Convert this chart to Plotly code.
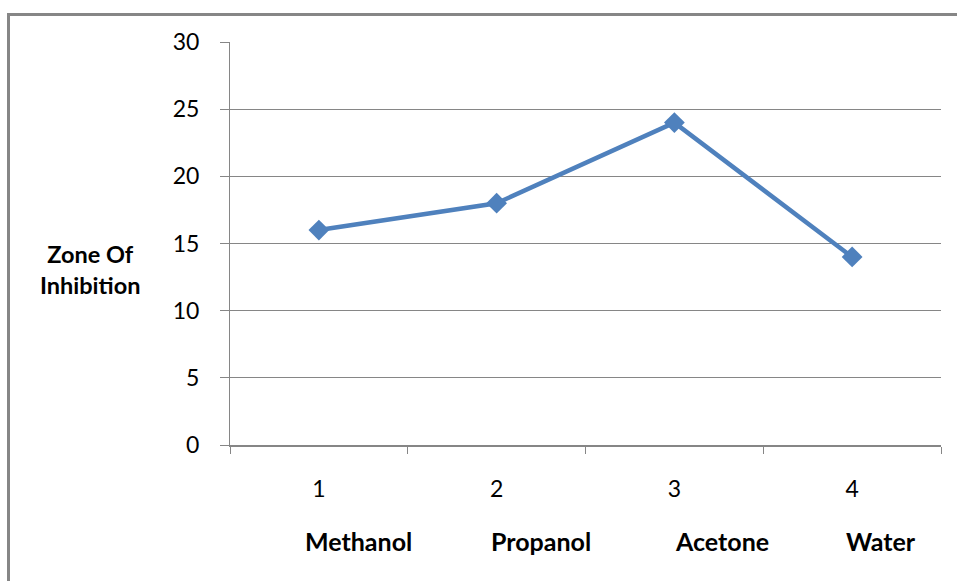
import plotly.graph_objects as go

# Solvent extracts and their zone of inhibition
solvents = ["Methanol", "Propanol", "Acetone", "Water"]
tick_labels = ["1", "2", "3", "4"]
zone_of_inhibition = [16, 18, 24, 14]

# Horizontal centres (paper fraction) of the solvent names under the axis
solvent_label_x = [0.1814, 0.4374, 0.692, 0.9156]

W, H = 957, 581
L, R, T, B = 230, 16, 42, 136
pw, ph = W - L - R, H - T - B

def px_x(p):
    return (p - L) / pw

def px_y(p):
    return (H - B - p) / ph

grey = "#868686"
blue = "#4F81BD"
font_family = "Lato, 'Open Sans', sans-serif"

fig = go.Figure(
    go.Scatter(
        x=tick_labels,
        y=zone_of_inhibition,
        mode="lines+markers",
        line=dict(color=blue, width=4.5),
        marker=dict(symbol="diamond", size=16, color=blue),
        hoverinfo="skip",
        showlegend=False,
    )
)

fig.update_xaxes(
    type="category",
    range=[-0.5, 3.5],
    showgrid=False,
    showline=True,
    linecolor=grey,
    linewidth=2,
    ticks="outside",
    tickson="boundaries",
    ticklen=7,
    tickcolor=grey,
    tickwidth=1,
    tickfont=dict(family=font_family, size=23, color="#000"),
    ticklabelstandoff=22,
    zeroline=False,
)

fig.update_yaxes(
    range=[0, 30],
    dtick=5,
    showgrid=True,
    gridcolor=grey,
    gridwidth=1,
    showline=True,
    linecolor=grey,
    linewidth=1,
    ticks="outside",
    ticklen=9,
    tickcolor=grey,
    tickfont=dict(family=font_family, size=23, color="#000"),
    ticklabelstandoff=16,
    zeroline=False,
)

annotations = [
    dict(
        text=name,
        x=xp,
        y=px_y(541),
        xref="paper",
        yref="paper",
        xanchor="center",
        yanchor="middle",
        showarrow=False,
        font=dict(family=font_family, size=25, color="#000", weight="bold"),
    )
    for name, xp in zip(solvents, solvent_label_x)
]
annotations.append(
    dict(
        text="Zone Of<br>Inhibition",
        x=px_x(90),
        y=px_y(269),
        xref="paper",
        yref="paper",
        xanchor="center",
        yanchor="middle",
        showarrow=False,
        align="center",
        font=dict(family=font_family, size=23.5, color="#000", weight="bold"),
    )
)

fig.update_layout(
    width=W,
    height=H,
    margin=dict(l=L, r=R, t=T, b=B),
    paper_bgcolor="white",
    plot_bgcolor="white",
    annotations=annotations,
    shapes=[
        dict(
            type="rect",
            xref="paper",
            yref="paper",
            x0=px_x(8.5),
            x1=px_x(962),
            y0=px_y(595),
            y1=px_y(14.5),
            line=dict(color=grey, width=3),
            layer="below",
        )
    ],
)

fig.write_html("out.html")
